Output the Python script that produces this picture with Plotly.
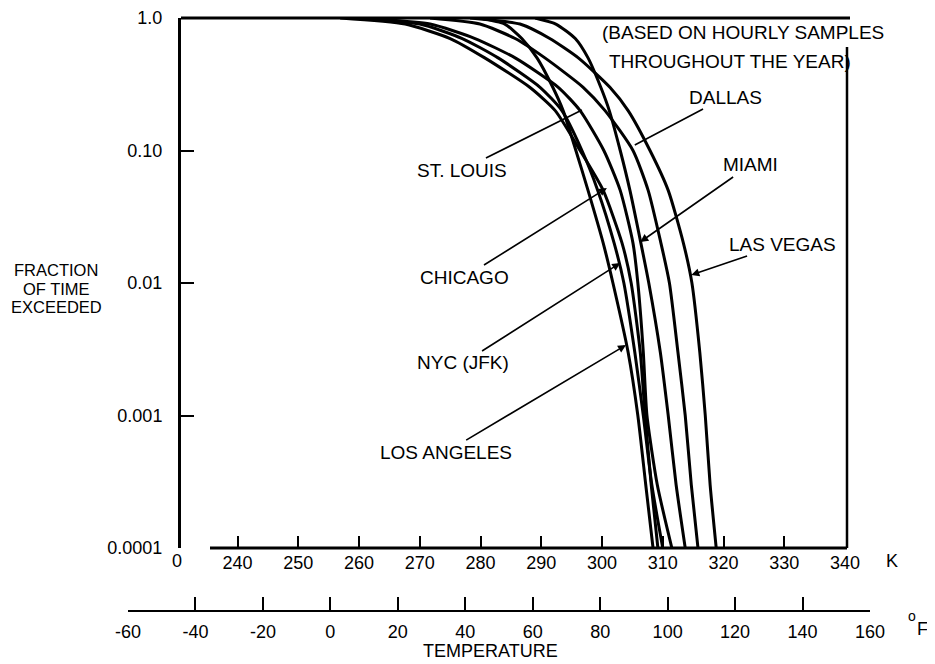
import math
import plotly.graph_objects as go

# page body has an 8px margin, so the figure is drawn 8px smaller and
# every target pixel position is shifted by that offset
OX, OY = 8, 8
W, H = 935 - OX, 664 - OY

# Fraction of time exceeded (y values, shared by all cities)
frac = [1.0, 0.9, 0.7, 0.5, 0.3, 0.2, 0.1, 0.05, 0.02, 0.01, 0.003, 0.001, 0.0003, 0.0001]

# Temperature (K) at which each fraction is exceeded
las_vegas = [278.3, 286.5, 291.4, 296.1, 301.3, 304.3, 307.9, 310.9, 313.4, 314.8, 316.1, 317.0, 317.8, 318.8]
dallas = [271.7, 279.9, 285.7, 290.6, 296.9, 300.5, 305.1, 307.6, 309.7, 311.1, 312.5, 313.7, 314.7, 315.8]
miami = [289.0, 292.4, 295.6, 297.7, 299.8, 301.2, 303.0, 304.6, 306.4, 307.7, 309.6, 310.9, 312.2, 313.7]
los_angeles = [279.9, 284.0, 286.8, 289.3, 291.9, 293.6, 295.7, 297.7, 300.2, 301.8, 304.3, 305.9, 307.2, 308.4]
chicago = [256.9, 267.6, 275.0, 280.7, 288.1, 292.3, 296.4, 300.2, 303.3, 304.8, 306.3, 307.1, 308.1, 309.2]
nyc = [258.5, 270.0, 277.0, 282.9, 289.8, 293.4, 296.7, 299.3, 302.0, 303.6, 305.4, 306.8, 308.2, 310.0]
st_louis = [260.2, 271.7, 279.1, 285.7, 292.8, 296.4, 300.3, 303.0, 305.1, 305.9, 306.8, 307.4, 309.1, 311.5]

k_ticks = [240, 250, 260, 270, 280, 290, 300, 310, 320, 330, 340]
f_ticks = [-60, -40, -20, 0, 20, 40, 60, 80, 100, 120, 140, 160]
y_ticks = [1.0, 0.1, 0.01, 0.001, 0.0001]
y_tick_text = ["1.0", "0.10", "0.01", "0.001", "0.0001"]

cities = [
    ("LAS VEGAS", las_vegas),
    ("DALLAS", dallas),
    ("MIAMI", miami),
    ("LOS ANGELES", los_angeles),
    ("CHICAGO", chicago),
    ("NYC (JFK)", nyc),
    ("ST. LOUIS", st_louis),
]

FONT = "Liberation Sans, Arial, sans-serif"

def px(x):
    return (x - OX) / W

def py(y):
    return 1 - (y - OY) / H

fig = go.Figure()
for name, temps in cities:
    fig.add_trace(go.Scatter(
        x=temps, y=frac, mode="lines", name=name,
        line=dict(color="black", width=3, shape="spline", smoothing=0.6),
        showlegend=False, hoverinfo="skip",
    ))

# invisible trace so the Fahrenheit axis is drawn
fig.add_trace(go.Scatter(x=[f_ticks[0], f_ticks[-1]], y=[0, 0], xaxis="x2", yaxis="y2",
                         mode="markers", marker=dict(opacity=0), showlegend=False,
                         hoverinfo="skip"))

tickfont = dict(family=FONT, size=18, color="black")

fig.update_layout(
    width=W, height=H,
    margin=dict(l=0, r=0, t=0, b=0, autoexpand=False),
    paper_bgcolor="white", plot_bgcolor="white",
    font=dict(family=FONT, size=18, color="black"),
    xaxis=dict(
        domain=[px(181), px(845)], range=[230.7, 340], anchor="y", automargin=False,
        showline=False, showgrid=False, zeroline=False,
        ticks="inside", ticklen=12, tickwidth=2, tickcolor="black",
        tickvals=k_ticks, ticktext=[str(v) for v in k_ticks],
        tickfont=tickfont, ticklabelstandoff=2,
    ),
    yaxis=dict(
        domain=[py(548), py(18)], type="log", range=[-4, 0], anchor="x", automargin=False,
        showline=True, linewidth=3, linecolor="black",
        showgrid=False, zeroline=False,
        ticks="inside", ticklen=13, tickwidth=2, tickcolor="black",
        tickvals=y_ticks, ticktext=y_tick_text,
        tickfont=tickfont, ticklabelstandoff=12,
    ),
    xaxis2=dict(
        domain=[px(128), px(870)], range=[-60, 160], anchor="y2", automargin=False,
        showline=True, linewidth=2, linecolor="black",
        showgrid=False, zeroline=False,
        ticks="inside", ticklen=13, tickwidth=2, tickcolor="black",
        tickvals=f_ticks, ticktext=[str(v) for v in f_ticks],
        tickfont=tickfont, ticklabelstandoff=4,
    ),
    yaxis2=dict(domain=[py(610), py(595)], range=[0, 1], visible=False, automargin=False),
)

line = dict(color="black", width=3)
fig.add_shape(type="line", xref="paper", yref="paper",
              x0=px(181), x1=px(850), y0=py(18), y1=py(18), line=line)
fig.add_shape(type="line", xref="paper", yref="paper",
              x0=px(847), x1=px(847), y0=py(47), y1=py(548), line=dict(color="black", width=2.5))
fig.add_shape(type="line", xref="paper", yref="paper",
              x0=px(210), x1=px(847), y0=py(548), y1=py(548), line=line)

def txt(x, y, text, size=18, xanchor="center"):
    fig.add_annotation(x=px(x), y=py(y), xref="paper", yref="paper", text=text,
                       showarrow=False, xanchor=xanchor, yanchor="middle",
                       font=dict(family=FONT, size=size, color="black"), align="center")

txt(56, 270, "FRACTION", size=16.5)
txt(56, 289, "OF TIME", size=16.5)
txt(56, 307, "EXCEEDED", size=16.5)
txt(177, 561, "0")
txt(892, 561, "K")
txt(912, 616, "o", size=14)
txt(922, 629, "F")
txt(490, 651, "TEMPERATURE")
txt(600, 33, "(BASED ON HOURLY SAMPLES", size=19, xanchor="left")
txt(607, 61, "THROUGHOUT THE YEAR)", size=19, xanchor="left")

# city labels with leader lines (tip in data coords, label offset in pixels)
labels = [
    ("ST. LOUIS", 296.7, 0.202, -120, 60, 0),
    ("CHICAGO", 300.8, 0.0521, -142, 89, 2),
    ("NYC (JFK)", 303.0, 0.01416, -157, 100, 2),
    ("LOS ANGELES", 303.95, 0.0034, -180, 107, 2),
    ("DALLAS", 305.4, 0.110, 91, -48, 0),
    ("MIAMI", 306.3, 0.0204, 110, -77, 2),
    ("LAS VEGAS", 314.7, 0.01149, 91, -31, 2),
]
for name, tx, ty, ax, ay, head in labels:
    fig.add_annotation(x=tx, y=math.log10(ty), xref="x", yref="y", axref="pixel", ayref="pixel",
                       ax=ax, ay=ay, text=name, showarrow=True,
                       arrowhead=head, arrowsize=1.0, arrowwidth=1.6, arrowcolor="black",
                       standoff=0, startstandoff=0,
                       font=dict(family=FONT, size=19, color="black"))

fig.write_html("out.html")
